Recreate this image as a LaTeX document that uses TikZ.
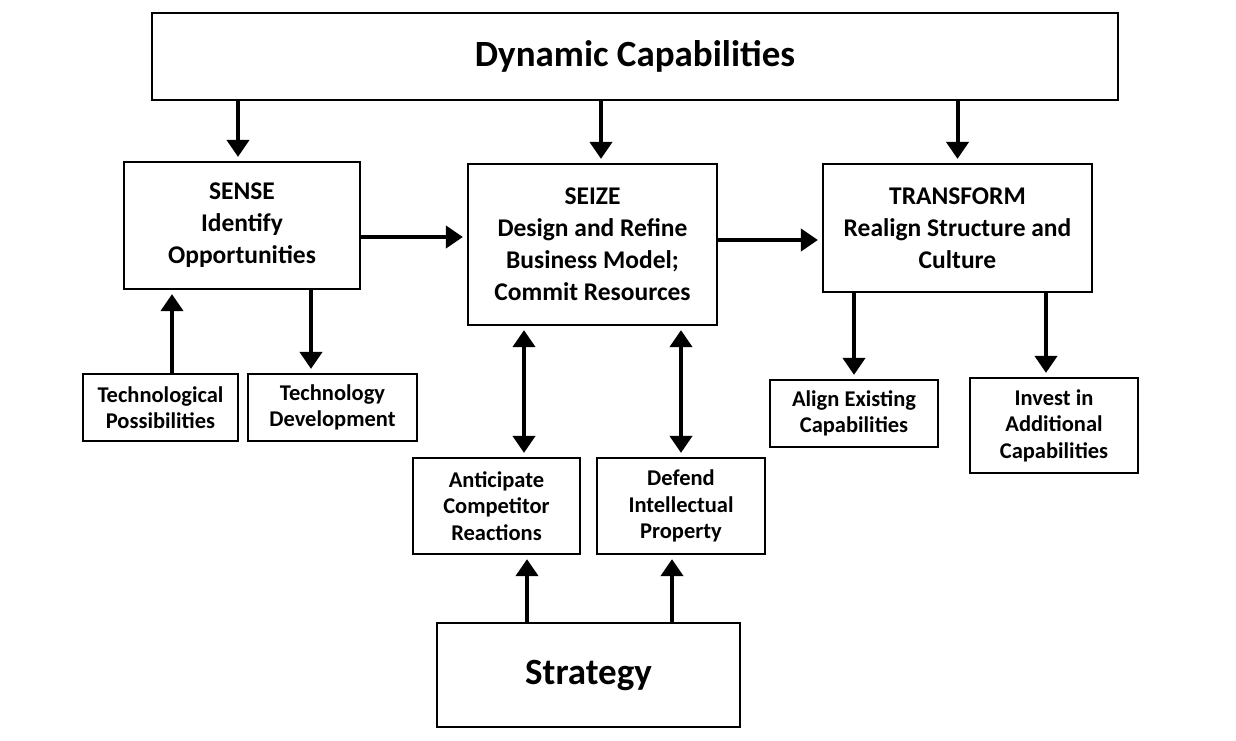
\documentclass[tikz,border=0pt]{standalone}
\usepackage{fontspec}
\setmainfont{Carlito}
\usetikzlibrary{arrows.meta}

\begin{document}
\begin{tikzpicture}[x=1pt,y=-1pt,
  box/.style={draw, line width=2.2pt, align=center, inner sep=0pt, font=\bfseries},
  big/.style={box, font=\bfseries\fontsize{25.5}{32}\selectfont},
  small/.style={box, font=\bfseries\fontsize{22.5}{26.5}\selectfont},
  arr/.style={line width=4pt, -{Triangle[width=22pt,length=17pt]}, shorten >=4pt},
  dbl/.style={line width=4pt, {Triangle[width=22pt,length=17pt]}-{Triangle[width=22pt,length=17pt]}, shorten >=4pt, shorten <=4pt}]
\useasboundingbox (0,0) rectangle (1236,740);

%Top
\node[box, font=\bfseries\fontsize{37}{42}\selectfont, minimum width=966pt, minimum height=87pt] (dyn) at (635,56.5) {Dynamic Capabilities};

%Middle row
\node[big, minimum width=236pt, minimum height=127pt] (sense) at (242,225.5) {SENSE\\Identify\\Opportunities};
\node[big, minimum width=249pt, minimum height=161pt] (seize) at (592.5,244.5) {SEIZE\\Design and Refine\\Business Model;\\Commit Resources};
\node[big, minimum width=269pt, minimum height=128pt] (transform) at (957.5,228) {TRANSFORM\\Realign Structure and\\Culture};

%Lower boxes
\node[small, minimum width=155pt, minimum height=67pt] (tpos) at (160.5,407.5) {Technological\\Possibilities};
\node[small, minimum width=169pt, minimum height=67pt] (tdev) at (332.5,407.5) {Technology\\Development};
\node[small, minimum width=167pt, minimum height=96pt] (antic) at (496.5,506) {Anticipate\\Competitor\\Reactions};
\node[small, minimum width=168pt, minimum height=96pt] (defend) at (681,506) {Defend\\Intellectual\\Property};
\node[small, minimum width=168pt, minimum height=67pt] (align) at (854,413.5) {Align Existing\\Capabilities};
\node[small, minimum width=168pt, minimum height=95pt] (invest) at (1054,425.5) {Invest in\\Additional\\Capabilities};
\node[box, font=\bfseries\fontsize{37}{42}\selectfont, minimum width=303pt, minimum height=104pt] (strategy) at (588.5,675) {Strategy};

%Arrows from the top
\draw[arr] ([xshift=-4pt]sense.north |- dyn.south) -- ([xshift=-4pt]sense.north);
\draw[arr] ([xshift=8.5pt]seize.north |- dyn.south) -- ([xshift=8.5pt]seize.north);
\draw[arr] (transform.north |- dyn.south) -- (transform.north);

%Across
\draw[arr] ([yshift=-11.5pt]sense.east) -- ([yshift=-11.5pt]sense.east -| seize.west);
\draw[arr] ([yshift=4.5pt]seize.east) -- ([yshift=4.5pt]seize.east -| transform.west);

%Sense
\draw[arr] ([xshift=11.5pt]tpos.north) -- ([xshift=11.5pt]tpos.north |- sense.south);
\draw[arr] ([xshift=-21.5pt]tdev.north |- sense.south) -- ([xshift=-21.5pt]tdev.north);

%Seize
\draw[dbl] ([xshift=27.5pt]antic.north) -- ([xshift=27.5pt]antic.north |- seize.south);
\draw[dbl] (defend.north) -- (defend.north |- seize.south);
\draw[arr] ([xshift=30.5pt]antic.south |- strategy.north) -- ([xshift=30.5pt]antic.south);
\draw[arr] ([xshift=-9pt]defend.south |- strategy.north) -- ([xshift=-9pt]defend.south);

%Transform
\draw[arr] (align.north |- transform.south) -- (align.north);
\draw[arr] ([xshift=-8pt]invest.north |- transform.south) -- ([xshift=-8pt]invest.north);

\end{tikzpicture}
\end{document}
